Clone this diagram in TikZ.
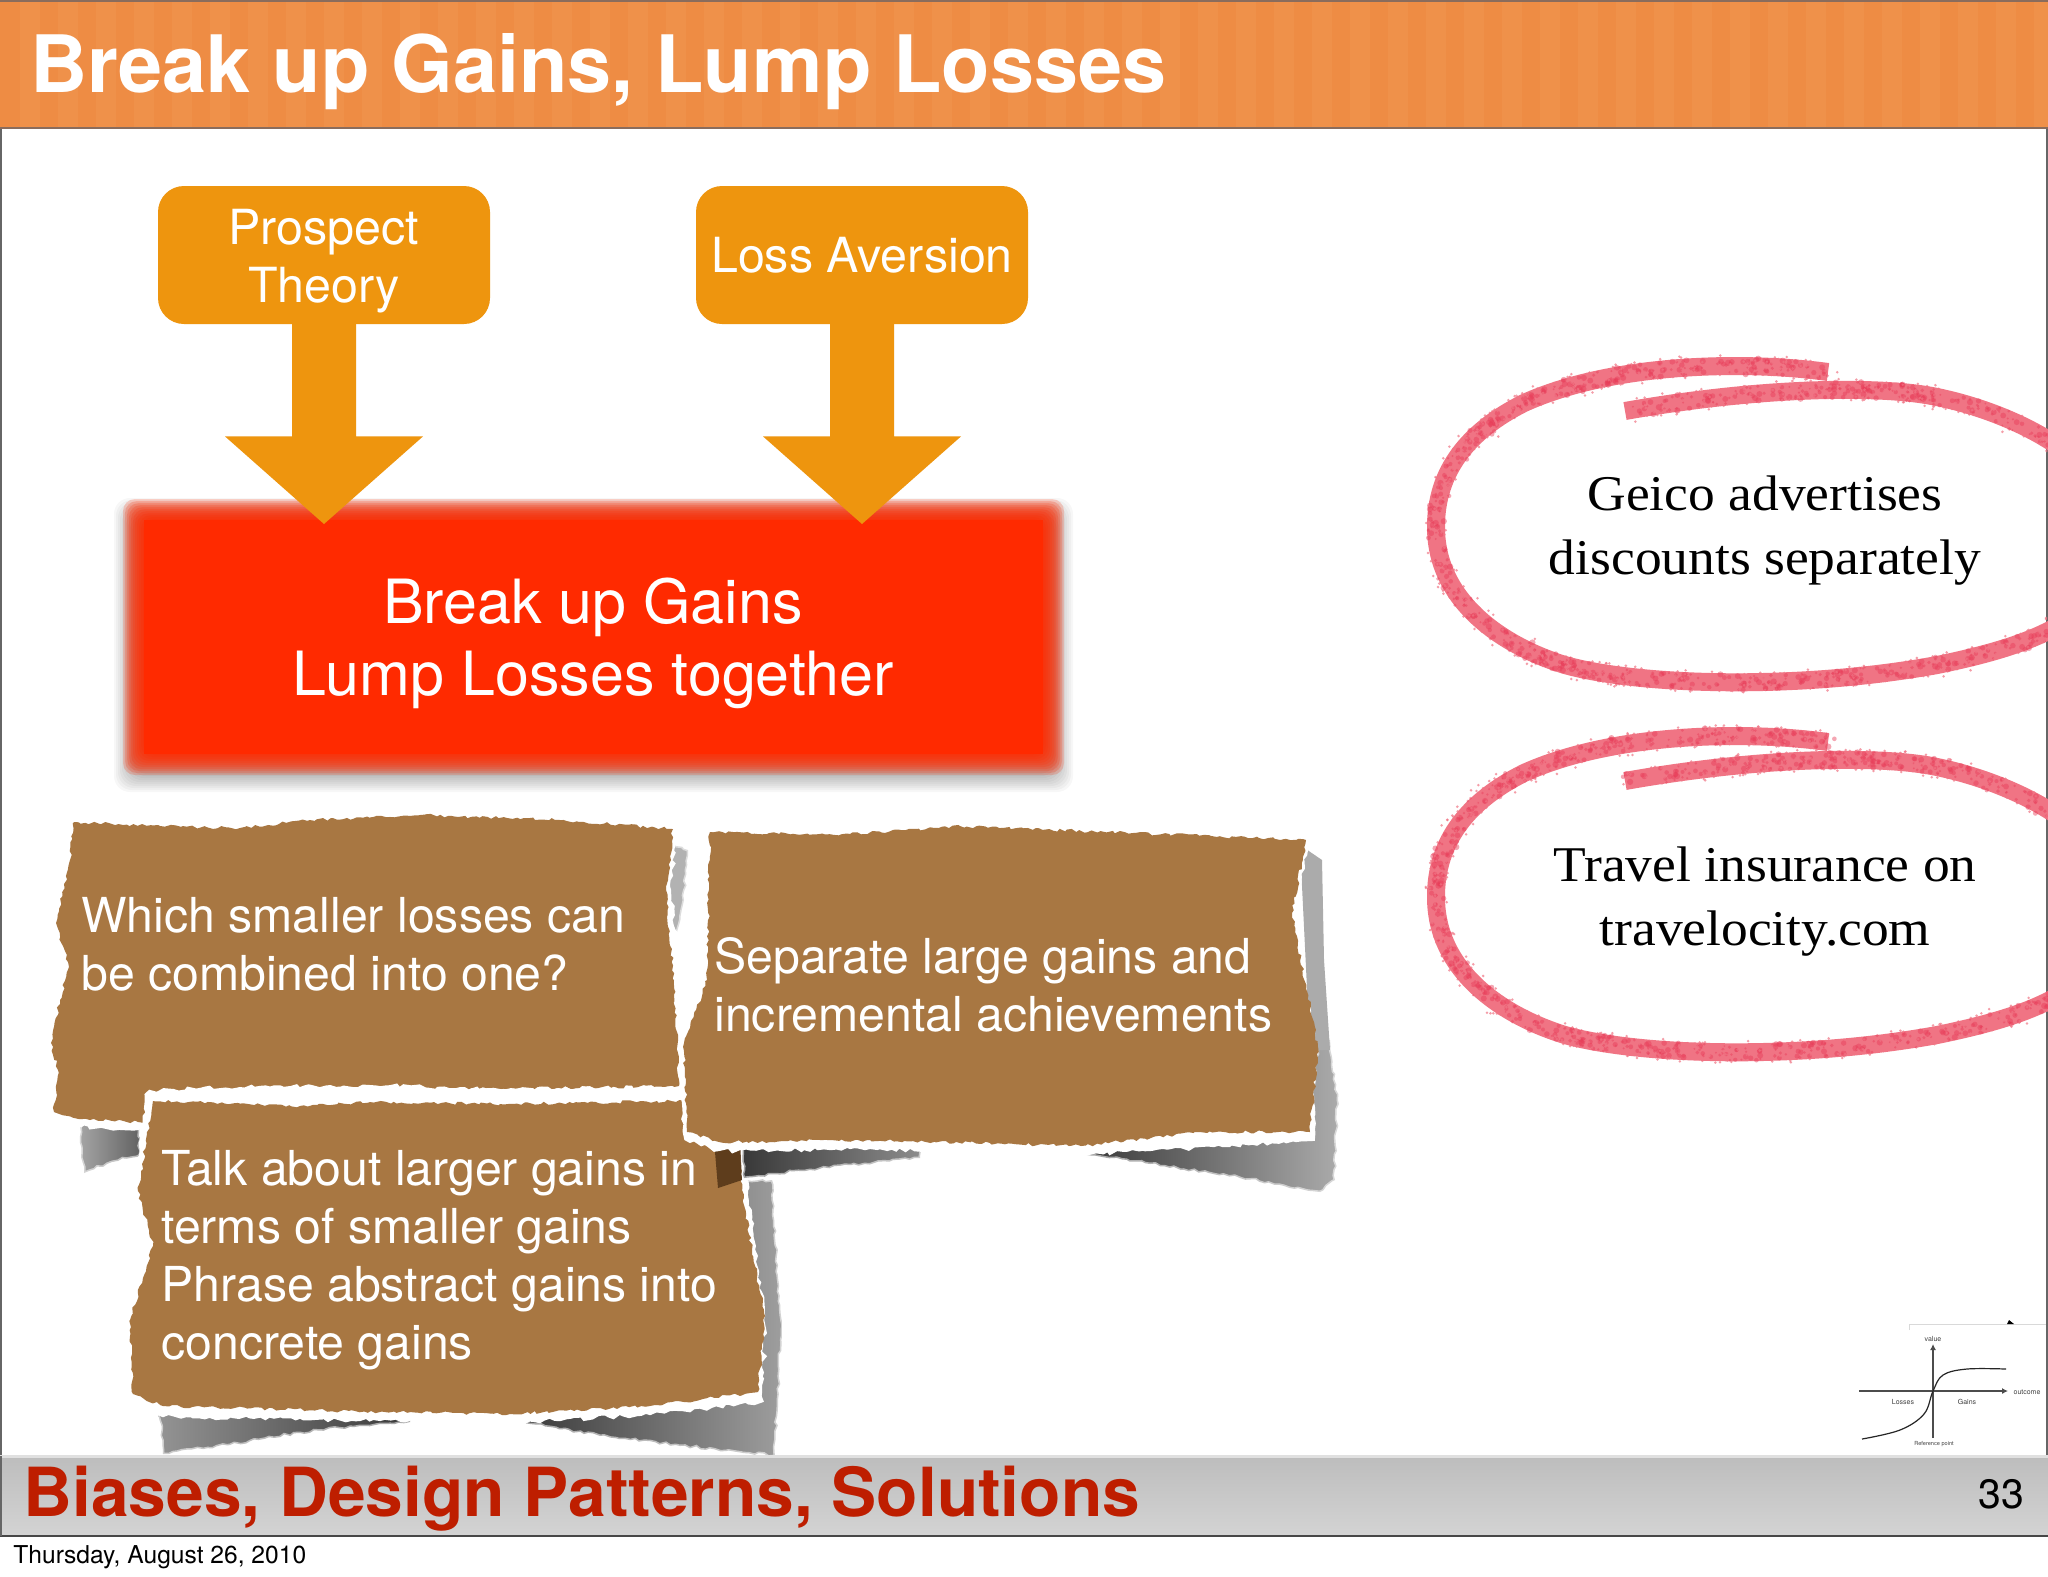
\documentclass[tikz,border=0pt]{standalone}
\usepackage{fontspec}
\setmainfont{TeX Gyre Heros}
\newfontfamily\palfont[FakeStretch=1.07]{Liberation Serif}
\usetikzlibrary{calc,arrows.meta,decorations.pathmorphing,shadings}
\definecolor{orangeband}{HTML}{EE8C44}
\definecolor{orangelight}{HTML}{F19A55}
\definecolor{bandline}{HTML}{8A6C5C}
\definecolor{boxorange}{HTML}{EE950E}
\definecolor{hotred}{HTML}{FF2A00}
\definecolor{paperbrown}{HTML}{A87742}
\definecolor{footred}{HTML}{BE1E00}
\definecolor{pinkbase}{HTML}{F07484}
\definecolor{pinkdark}{HTML}{E83C58}
\newcommand{\fs}[2]{\fontsize{#1}{#2}\selectfont}
\newcommand{\pinkcurve}{(1828,372) .. controls (1740,360) and (1610,364) .. (1524,403) .. controls (1470,430) and (1435,470) .. (1436,529) .. controls (1437,600) and (1500,645) .. (1565,665) .. controls (1640,686) and (1800,690) .. (1937,665) .. controls (2000,652) and (2060,635) .. (2090,600) .. controls (2100,560) and (2100,500) .. (2085,470) .. controls (2060,440) and (2000,410) .. (1937,397) .. controls (1880,385) and (1760,387) .. (1625,411)}
\newcommand{\pinkloop}[1]{%
  \begin{scope}[yshift=#1]
    \draw[pinkbase,line width=9pt] \pinkcurve;
    \foreach \a/\b/\c/\d/\e/\f/\g/\h/\n in {
      1828/372/1740/360/1610/364/1524/403/170,
      1524/403/1470/430/1435/470/1436/529/100,
      1436/529/1437/600/1500/645/1565/665/110,
      1565/665/1640/686/1800/690/1937/665/190,
      1937/665/2000/652/2060/635/2090/600/80,
      2085/470/2060/440/2000/410/1937/397/80,
      1937/397/1880/385/1760/387/1625/411/170} {
      \foreach \i in {1,...,\n} {
        \pgfmathsetmacro\tt{rnd}
        \pgfmathsetmacro\ss{1-\tt}
        \pgfmathsetmacro\xx{\ss*\ss*\ss*\a+3*\ss*\ss*\tt*\c+3*\ss*\tt*\tt*\e+\tt*\tt*\tt*\g+16*rand/2}
        \pgfmathsetmacro\yy{\ss*\ss*\ss*\b+3*\ss*\ss*\tt*\d+3*\ss*\tt*\tt*\f+\tt*\tt*\tt*\h+16*rand/2}
        \pgfmathsetmacro\rr{.5+1.1*rnd}
        \fill[pinkdark,opacity=.45] (\xx,\yy) circle[radius=\rr pt];
      }
      \foreach \i in {1,...,\n} {
        \pgfmathsetmacro\tt{rnd}
        \pgfmathsetmacro\ss{1-\tt}
        \pgfmathsetmacro\xx{\ss*\ss*\ss*\a+3*\ss*\ss*\tt*\c+3*\ss*\tt*\tt*\e+\tt*\tt*\tt*\g+22*rand/2}
        \pgfmathsetmacro\yy{\ss*\ss*\ss*\b+3*\ss*\ss*\tt*\d+3*\ss*\tt*\tt*\f+\tt*\tt*\tt*\h+22*rand/2}
        \fill[pinkbase,opacity=.7] (\xx,\yy) circle[radius=.7pt];
      }
    }
  \end{scope}}
\tikzset{
  headtext/.style={text=white,font=\bfseries\fs{39.6}{46},anchor=west,inner sep=0},
  pill/.style={fill=boxorange,rounded corners=13pt,minimum width=166pt,minimum height=69pt,inner sep=0,text=white,align=center,font=\fs{24.2}{29}},
  papertext/.style={text=white,align=left,anchor=west,inner sep=0,font=\fs{24.1}{29}},
  noteserif/.style={text=black,align=center,inner sep=0,font=\palfont\fs{25}{32}},
  chartlabel/.style={text=black!75,inner sep=0,font=\fs{3.5}{4}},
  papershape/.style={fill=paperbrown,decorate,decoration={random steps,segment length=2pt,amplitude=.8pt}},
  tornedge/.style={fill=white,draw=white,line width=3pt,decorate,decoration={random steps,segment length=2.5pt,amplitude=1.1pt}},
  shadowjag/.style={decorate,decoration={random steps,segment length=2.5pt,amplitude=.7pt},draw=white,draw opacity=.55,line width=1.5pt},
  axisline/.style={draw=black!70,line width=.6pt,-{Latex[length=3pt,width=3pt]}}
}
\begin{document}
\begin{tikzpicture}[x=0.5pt,y=-0.5pt]
\useasboundingbox (0,0) rectangle (2048,1576);
\fill[white] (0,0) rectangle (2048,1576);
\begin{scope}
\clip (0,0) rectangle (2048,1576);
% header
\fill[orangeband] (0,0) rectangle (2048,129);
\foreach \s in {20,58,...,2040} {\fill[orangelight,opacity=.4] (\s,2) rectangle ++(20,125);}
\draw[bandline,line width=1pt] (0,.5) -- (2048,.5);
\draw[bandline,line width=1.3pt] (0,128) -- (2048,128);
% frame
\draw[black!60,line width=1pt] (.5,129) -- (.5,1536);
\draw[black!60,line width=1pt] (2047,129) -- (2047,1536);
% red box
\foreach \d in {0,2,...,18} {\fill[black,opacity=.03,rounded corners=8pt] (132-\d,508-\d+8) rectangle (1055+\d,766+\d+8);}
\foreach \d in {9,7,...,-11} {\fill[hotred,opacity=.2,rounded corners=6pt] (132-\d,508-\d) rectangle (1055+\d,766+\d);}
\fill[hotred] (144,520) rectangle (1043,754);
\node[inner sep=0,text=white,align=center,font=\fs{30.5}{36}] (gains) at (593,643) {Break up Gains\\Lump Losses together};
% pills and arrows
\node[pill] (prospect) at (324,255) {\rule{0pt}{24pt}Prospect\\Theory};
\node[pill] (loss) at (862,255) {Loss Aversion};
\coordinate (tipa) at (324,524);
\coordinate (tipb) at (862,524);
\foreach \p/\t in {prospect/tipa,loss/tipb} {
  \fill[boxorange] ($(\p.south)+(-32,-1)$) -- ($(\p.south)+(-32,112)$) -- ($(\p.south)+(-99,112)$) -- (\t) -- ($(\p.south)+(99,112)$) -- ($(\p.south)+(32,112)$) -- ($(\p.south)+(32,-1)$) -- cycle;
}
% shadow paper 1
\pgfmathsetseed{3}
\shadedraw[shadowjag,left color=black!35,right color=black!62] (79,1122) -- (84,1173) -- (112,1162) -- (140,1155) -- (140,1122) -- cycle;
\fill[black!30,shadowjag] (662,840) -- (688,850) -- (684,900) -- (672,950) -- (662,950) -- cycle;
% paper 1
\pgfmathsetseed{21}
\path[tornedge] (74,818) -- (240,822) -- (420,808) -- (673,825) -- (668,890) -- (678,980) -- (681,1088) -- (400,1092) -- (138,1127) -- (90,1124) -- (54,1117) -- (58,1070) -- (51,1043) -- (60,1000) -- (69,967) -- (56,923) -- (70,860) -- cycle;
\pgfmathsetseed{5}
\fill[papershape] (74,822) -- (160,826) -- (240,828) -- (310,820) -- (420,815) -- (560,820) -- (673,829) -- (666,890) -- (674,980) -- (679,1086) -- (400,1090) -- (138,1122) -- (90,1120) -- (54,1112) -- (58,1070) -- (51,1043) -- (60,1000) -- (69,967) -- (56,923) -- (70,860) -- cycle;
% shadow paper 3
\pgfmathsetseed{7}
\shadedraw[shadowjag,left color=black!42,right color=black!78] (158,1405) -- (163,1454) -- (230,1445) -- (300,1433) -- (360,1426) -- (410,1422) -- (410,1400) -- cycle;
\shadedraw[shadowjag,left color=black!82,right color=black!38] (490,1408) -- (530,1424) -- (600,1436) -- (680,1446) -- (775,1456) -- (778,1400) -- (782,1330) -- (772,1180) -- (745,1180) -- (740,1400) -- cycle;
% paper 3
\pgfmathsetseed{31}
\path[tornedge] (150,1093) -- (240,1090) -- (370,1088) -- (500,1092) -- (735,1092) -- (745,1190) -- (752,1250) -- (762,1316) -- (760,1400) -- (650,1412) -- (510,1420) -- (380,1418) -- (163,1414) -- (133,1400) -- (130,1320) -- (150,1246) -- (138,1191) -- cycle;
\pgfmathsetseed{9}
\fill[papershape] (153,1101) -- (300,1106) -- (370,1102) -- (500,1104) -- (735,1100) -- (742,1190) -- (752,1250) -- (765,1316) -- (758,1392) -- (650,1406) -- (510,1414) -- (380,1412) -- (163,1406) -- (133,1394) -- (130,1320) -- (153,1246) -- (138,1191) -- cycle;
% shadow paper 2
\pgfmathsetseed{13}
\fill[fill={rgb,255:red,94;green,61;blue,28}] (714,1140) -- (718,1188) -- (742,1180) -- (740,1140) -- cycle;
\shadedraw[shadowjag,left color=black!78,right color=black!45] (742,1140) -- (744,1178) -- (810,1170) -- (920,1158) -- (920,1135) -- cycle;
\shadedraw[shadowjag,left color=black!82,right color=black!33] (1060,1135) -- (1081,1153) -- (1150,1164) -- (1240,1178) -- (1320,1192) -- (1335,1180) -- (1338,1100) -- (1330,1040) -- (1320,1040) -- (1300,1130) -- cycle;
\fill[black!33] (1300,845) -- (1322,860) -- (1324,960) -- (1330,1050) -- (1310,1050) -- cycle;
% paper 2
\pgfmathsetseed{41}
\path[tornedge] (710,826) -- (960,820) -- (1306,834) -- (1292,913) -- (1312,1047) -- (1312,1138) -- (1081,1152) -- (870,1146) -- (719,1148) -- (687,1138) -- (682,1043) -- (707,980) -- cycle;
\pgfmathsetseed{15}
\fill[papershape] (710,832) -- (850,834) -- (960,826) -- (1306,840) -- (1292,913) -- (1318,1047) -- (1310,1132) -- (1200,1132) -- (1081,1146) -- (870,1140) -- (719,1142) -- (687,1132) -- (684,1043) -- (707,980) -- cycle;
% paper texts
\node[papertext] (which) at (81,944) {Which smaller losses can\\be combined into one?};
\node[papertext] (separate) at (714,985) {Separate large gains and\\incremental achievements};
\node[papertext] (talk) at (161,1260) {Talk about larger gains in\\terms of smaller gains\\Phrase abstract gains into\\concrete gains};
% pink loops
\pgfmathsetseed{17}
\pinkloop{0pt}
\pinkloop{-185pt}
\node[noteserif] (geico) at (1765,531) {Geico advertises\\discounts separately};
\node[noteserif] (travel) at (1765,902) {Travel insurance on\\travelocity.com};
% small chart
\draw[black!15,line width=.5pt] (1909,1330) -- (1909,1324) -- (2046,1324);
\fill[black] (2007,1324) -- (2009,1320) -- (2014,1324) -- cycle;
\coordinate (xstart) at (1859,1391);
\coordinate (xend) at (2008,1391);
\coordinate (ystart) at (1933,1438);
\coordinate (yend) at (1933,1344);
\draw[axisline] (xstart) -- (xend);
\draw[axisline] (ystart) -- (yend);
\draw[black!85,line width=.6pt] plot[smooth,tension=.6] coordinates {(1862,1439) (1900,1430) (1924,1414) (1933,1391) (1943,1375) (1967,1369) (2006,1369)};
\node[chartlabel] (value) at (1933,1339) {value};
\node[chartlabel] (outcome) at (2027,1392) {outcome};
\node[chartlabel] (losses) at (1903,1402) {Losses};
\node[chartlabel] (cgains) at (1967,1402) {Gains};
\node[chartlabel,font=\fs{2.8}{3}] (refpoint) at (1934,1444) {Reference point};
% footer band
\shade[top color=black!26,bottom color=black!17] (0,1456) rectangle (2048,1536);
\fill[black!12] (0,1455) rectangle (2048,1458);
\draw[black!72,line width=1pt] (0,1536) -- (2048,1536);
\draw[black!60,line width=1pt] (.5,1456) -- (.5,1536);
\node[headtext,text=footred,font=\bfseries\fs{33.85}{40}] (footer) at (23,1499) {Biases, Design Patterns, Solutions};
\node[inner sep=0,text=black,font=\fs{20.5}{24}] (pagenum) at (2001,1494) {33};
\node[inner sep=0,anchor=west,text=black,font=\fs{12.3}{14}] (date) at (13,1557) {Thursday, August 26, 2010};
\node[headtext] (title) at (30,72) {Break up Gains, Lump Losses};
\end{scope}
\end{tikzpicture}
\end{document}
